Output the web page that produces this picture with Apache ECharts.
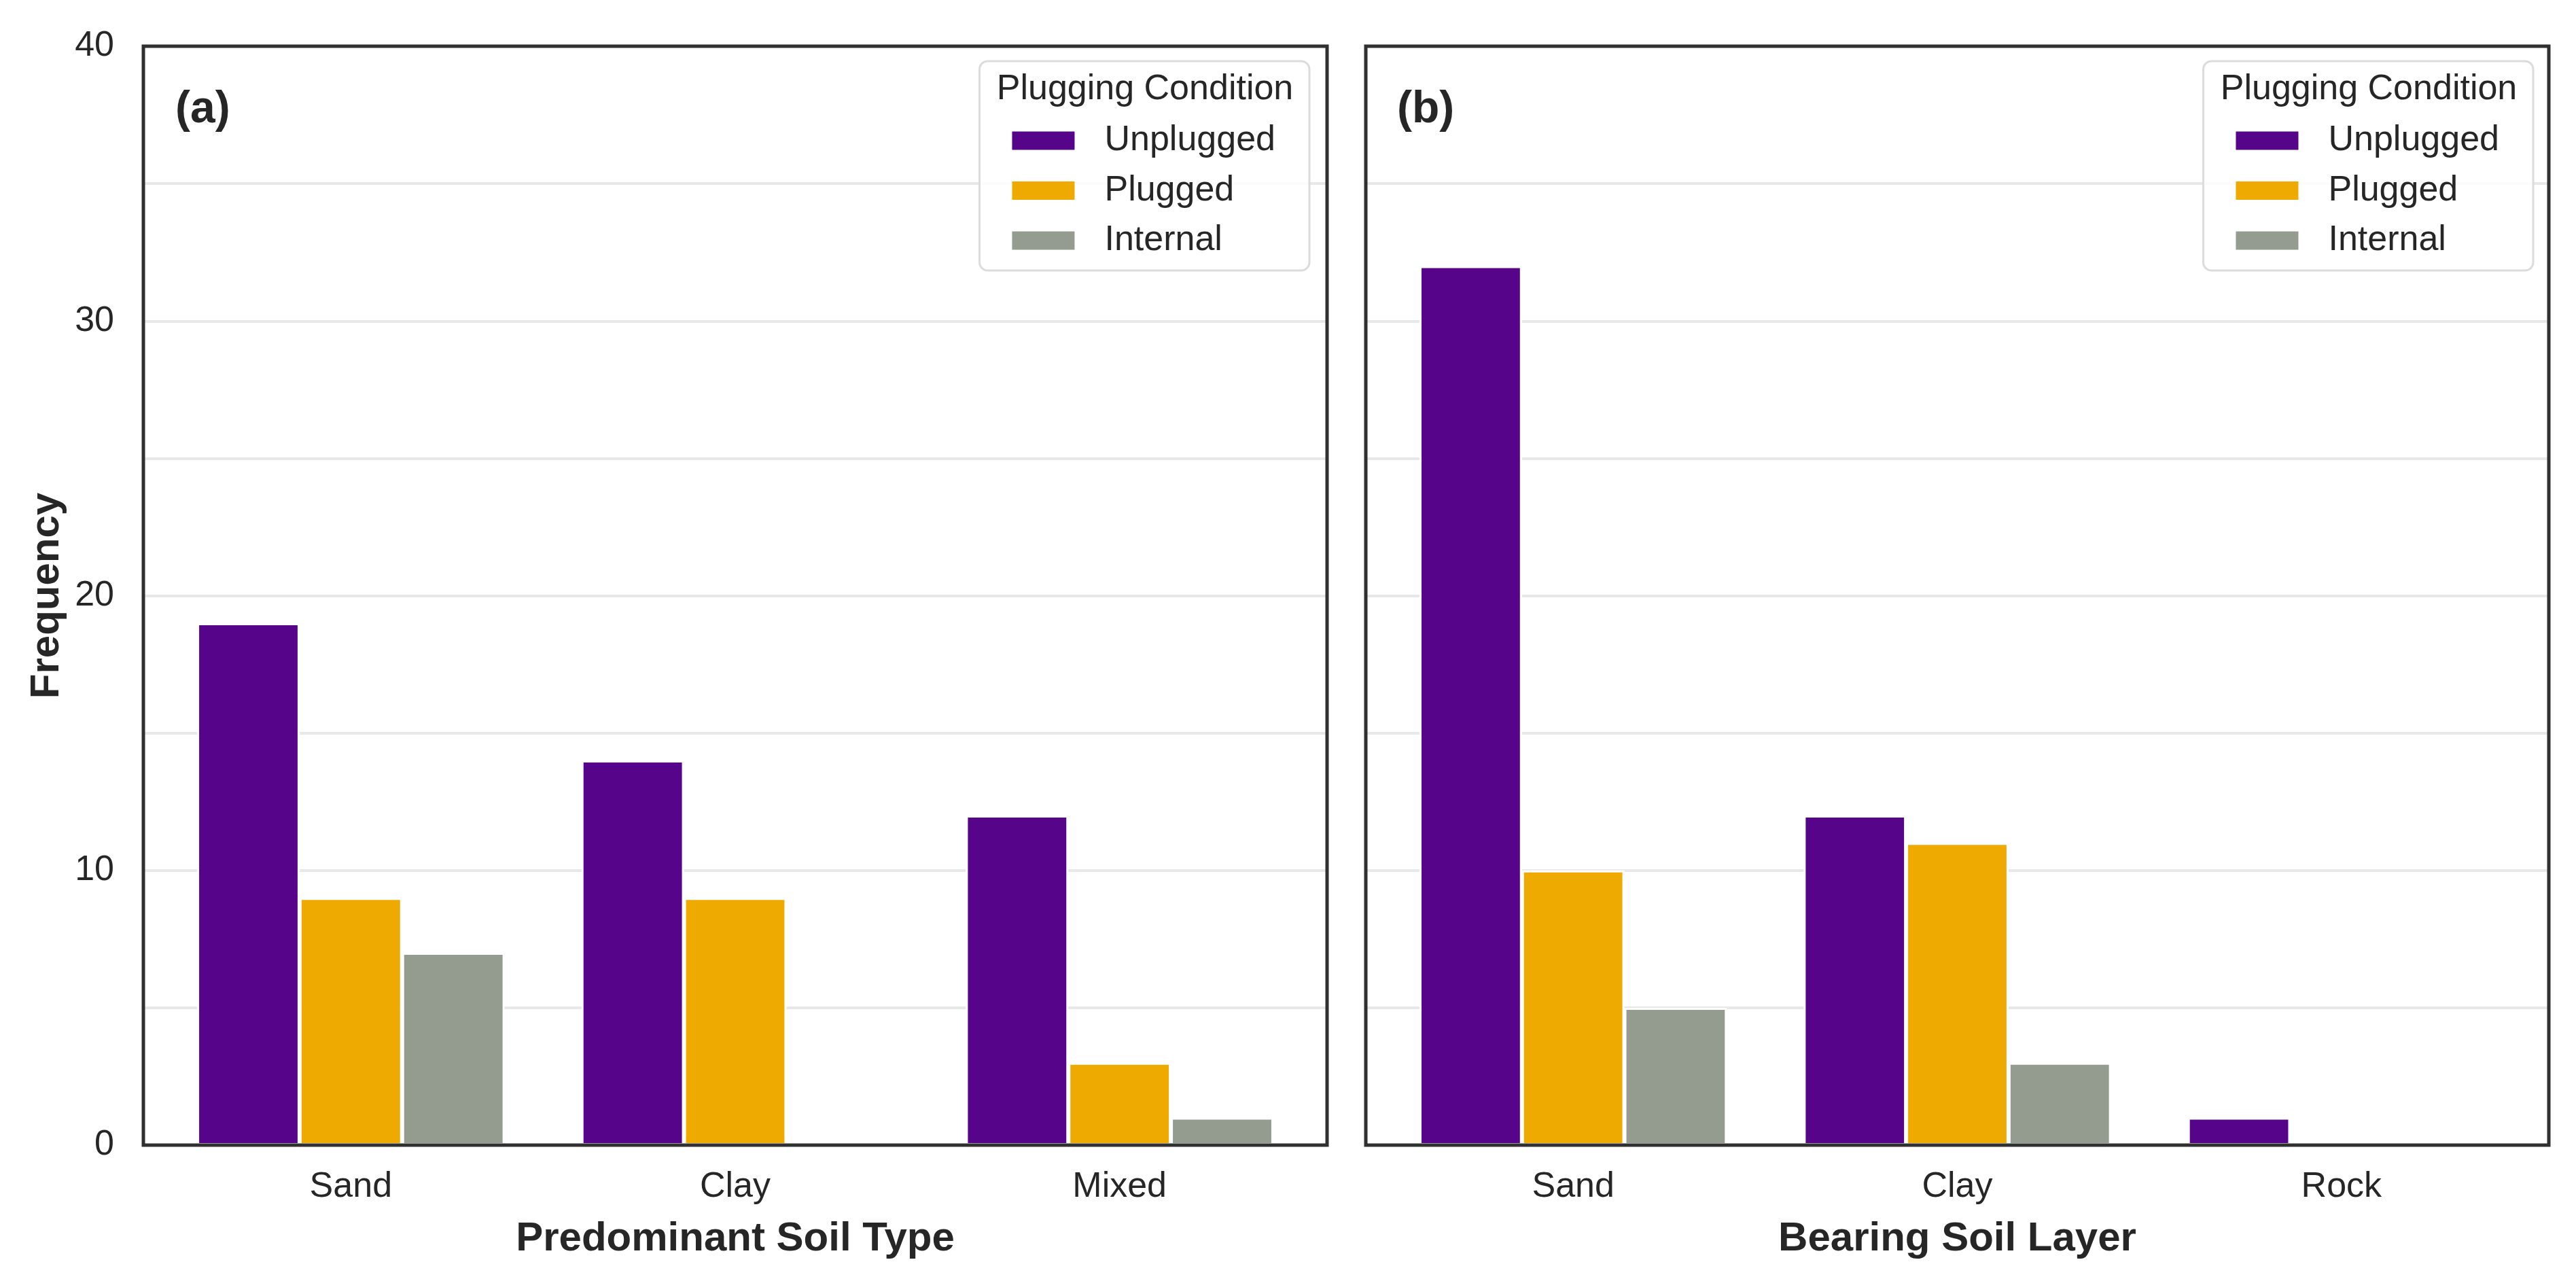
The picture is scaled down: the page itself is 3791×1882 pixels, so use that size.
<!DOCTYPE html>
<html>
<head>
<meta charset="utf-8">
<script src="https://cdn.jsdelivr.net/npm/echarts@6/dist/echarts.min.js"></script>
<style>
  html, body { margin: 0; padding: 0; background: #ffffff; }
  #chart { width: 3791px; height: 1882px; }
</style>
</head>
<body>
<div id="chart"></div>
<script>
// ---- data ----
const leftCategories = ['Sand', 'Clay', 'Mixed'];
const rightCategories = ['Sand', 'Clay', 'Rock'];
const seriesNames = ['Unplugged', 'Plugged', 'Internal'];
const seriesColors = ['#56048a', '#eeaa00', '#949b8f'];

const leftUnplugged = [19, 14, 12];
const leftPlugged = [9, 9, 3];
const leftInternal = [7, 0, 1];

const rightUnplugged = [32, 12, 1];
const rightPlugged = [10, 11, 0];
const rightInternal = [5, 3, 0];

const yMin = 0;
const yMax = 40;
const yLabelInterval = 10;

const leftXTitle = 'Predominant Soil Type';
const rightXTitle = 'Bearing Soil Layer';
const yTitle = 'Frequency';
const legendTitle = 'Plugging Condition';
const panelLabels = ['(a)', '(b)'];

// ---- layout ----
const FONT = '"Liberation Sans", Arial, Helvetica, sans-serif';
const TXT = '#262626';
const plotTop = 68, plotHeight = 1617;
const frameL = { left: 211, width: 1742 };
const frameR = { left: 2010, width: 1741 };
const pad = 22.5;
const dataL = { left: frameL.left + pad, width: frameL.width - 2 * pad };
const dataR = { left: frameR.left + pad, width: frameR.width - 2 * pad };

const chart = echarts.init(document.getElementById('chart'));

function frameGrid(f) {
  return { left: f.left, top: plotTop, width: f.width, height: plotHeight, show: true,
           borderColor: '#303030', borderWidth: 5, backgroundColor: 'transparent', z: 10 };
}
function dataGrid(d) {
  return { left: d.left, top: plotTop, width: d.width, height: plotHeight, show: false };
}
const gridLine = { color: '#e8e8e8', width: 4 };

function frameYAxis(idx, showLabels) {
  return {
    type: 'value', gridIndex: idx, min: yMin, max: yMax, interval: yLabelInterval,
    axisLine: { show: false }, axisTick: { show: false },
    axisLabel: { show: showLabels, fontSize: 52, color: TXT, fontFamily: FONT, margin: 43 },
    splitLine: { show: true, lineStyle: gridLine },
    minorTick: { show: false, splitNumber: 2 },
    minorSplitLine: { show: true, lineStyle: gridLine },
    name: showLabels ? yTitle : '', nameLocation: 'middle', nameGap: 112,
    nameTextStyle: { fontSize: 60, fontWeight: 'bold', color: TXT, fontFamily: FONT }
  };
}
function dataXAxis(idx, cats, title) {
  return {
    type: 'category', gridIndex: idx, data: cats, boundaryGap: true,
    axisLine: { show: false }, axisTick: { show: false },
    axisLabel: { fontSize: 52, color: TXT, fontFamily: FONT, margin: 36 },
    splitLine: { show: false },
    name: title, nameLocation: 'middle', nameGap: 108,
    nameTextStyle: { fontSize: 60, fontWeight: 'bold', color: TXT, fontFamily: FONT }
  };
}
function bar(name, data, xi, color) {
  return {
    type: 'bar', name: name, data: data, xAxisIndex: xi, yAxisIndex: xi,
    barGap: '0%', barCategoryGap: '20%',
    itemStyle: { color: color, borderColor: '#ffffff', borderWidth: 3 },
    emphasis: { disabled: true }
  };
}
function legend(rightPx) {
  return {
    data: seriesNames, orient: 'vertical', right: rightPx, top: 90,
    icon: 'rect', itemWidth: 94, itemHeight: 29, itemGap: 21.5,
    padding: [91, 50, 18, 46],
    backgroundColor: 'rgba(255,255,255,0.85)',
    borderColor: '#dcdcdc', borderWidth: 3, borderRadius: 12,
    textStyle: { fontSize: 52, color: TXT, fontFamily: FONT, lineHeight: 52, padding: [0, 0, 0, 38] },
    selectedMode: false
  };
}

const option = {
  backgroundColor: '#ffffff',
  animation: false,
  grid: [frameGrid(frameL), frameGrid(frameR), dataGrid(dataL), dataGrid(dataR)],
  xAxis: [
    { type: 'value', gridIndex: 0, min: 0, max: 1, show: false },
    { type: 'value', gridIndex: 1, min: 0, max: 1, show: false },
    dataXAxis(2, leftCategories, leftXTitle),
    dataXAxis(3, rightCategories, rightXTitle)
  ],
  yAxis: [
    frameYAxis(0, true),
    frameYAxis(1, false),
    { type: 'value', gridIndex: 2, min: yMin, max: yMax, show: false },
    { type: 'value', gridIndex: 3, min: yMin, max: yMax, show: false }
  ],
  legend: [legend(3791 - 1927), legend(3791 - 3728)],
  series: [
    bar(seriesNames[0], leftUnplugged, 2, seriesColors[0]),
    bar(seriesNames[1], leftPlugged, 2, seriesColors[1]),
    bar(seriesNames[2], leftInternal, 2, seriesColors[2]),
    bar(seriesNames[0], rightUnplugged, 3, seriesColors[0]),
    bar(seriesNames[1], rightPlugged, 3, seriesColors[1]),
    bar(seriesNames[2], rightInternal, 3, seriesColors[2])
  ],
  graphic: [
    { type: 'text', z: 100, x: frameL.left + 47, y: 162,
      style: { text: panelLabels[0], font: 'bold 66px ' + FONT, fill: TXT, align: 'left', verticalAlign: 'middle' } },
    { type: 'text', z: 100, x: frameR.left + 46, y: 162,
      style: { text: panelLabels[1], font: 'bold 66px ' + FONT, fill: TXT, align: 'left', verticalAlign: 'middle' } },
    { type: 'text', z: 100, x: 1927 - 242, y: 132,
      style: { text: legendTitle, font: '52px ' + FONT, fill: TXT, align: 'center', verticalAlign: 'middle' } },
    { type: 'text', z: 100, x: 3728 - 242, y: 132,
      style: { text: legendTitle, font: '52px ' + FONT, fill: TXT, align: 'center', verticalAlign: 'middle' } }
  ]
};
chart.setOption(option);
</script>
</body>
</html>
